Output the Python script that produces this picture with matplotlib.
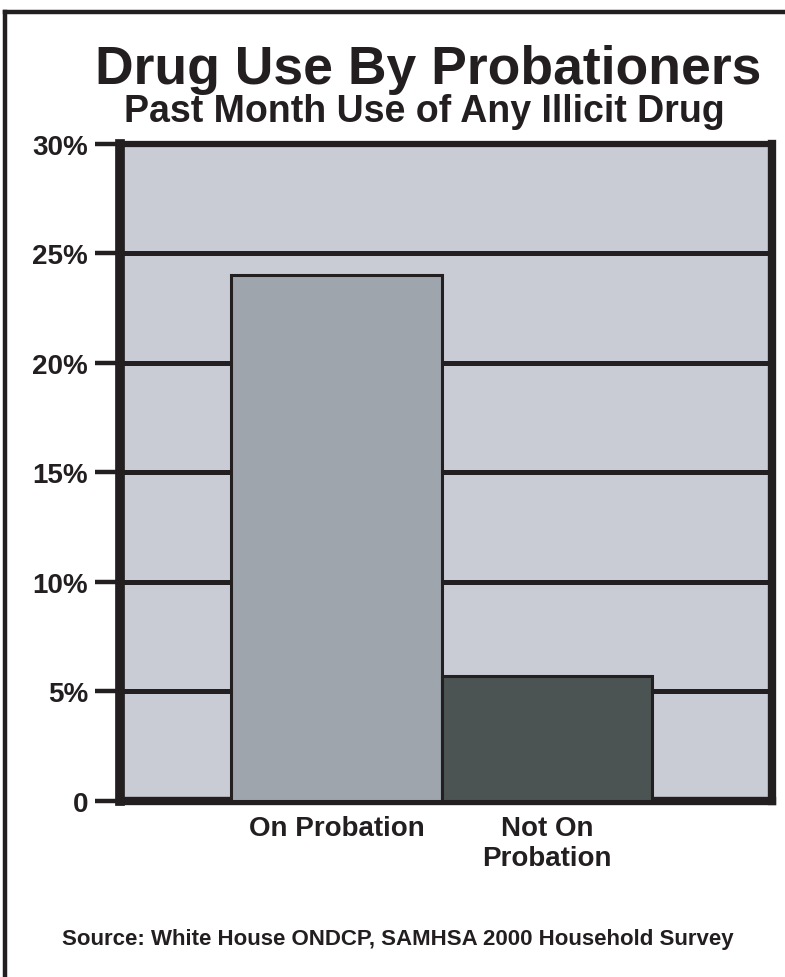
import matplotlib.pyplot as plt
from matplotlib.lines import Line2D

plt.rcParams['font.family'] = ['Liberation Sans', 'DejaVu Sans']

categories = ['On Probation', 'Not On\nProbation']
values = [24.0, 5.7]
bar_colors = ['#9ea5ad', '#4b5453']
yticks = [0, 5, 10, 15, 20, 25, 30]
ytick_labels = ['0', '5%', '10%', '15%', '20%', '25%', '30%']

fig = plt.figure(figsize=(7.85, 9.78), dpi=100)
ax = fig.add_axes([0.153, 0.180, 0.830, 0.672])
ax.set_facecolor('#c9ccd4')

ax.bar([0, 1], values, width=1.0, color=bar_colors,
       edgecolor='#231f20', linewidth=2.2, zorder=3)

ax.set_xlim(-1.03, 2.07)
ax.set_ylim(0, 30)
ax.set_yticks(yticks)
ax.set_yticklabels(ytick_labels, fontsize=20, fontweight='bold', color='#231f20')
ax.set_xticks([])
ax.grid(axis='y', color='#231f20', linewidth=3.6, zorder=1)
ax.set_axisbelow(True)
ax.tick_params(axis='y', length=18, width=3.2, color='#231f20', pad=5)

for side, lw in [('left', 7), ('right', 6), ('top', 4.5), ('bottom', 6)]:
    ax.spines[side].set_linewidth(lw)
    ax.spines[side].set_color('#231f20')

# category labels under the bars
for x, lab in zip([0, 1], categories):
    ax.text(x, -0.65, lab, ha='center', va='top', fontsize=20,
            fontweight='bold', color='#231f20', linespacing=1.2,
            transform=ax.transData)

fig.text(0.545, 0.928, 'Drug Use By Probationers', ha='center', va='center',
         fontsize=38.5, fontweight='bold', color='#231f20')
fig.text(0.540, 0.885, 'Past Month Use of Any Illicit Drug', ha='center', va='center',
         fontsize=27, fontweight='bold', color='#231f20')
fig.text(0.507, 0.039, 'Source: White House ONDCP, SAMHSA 2000 Household Survey',
         ha='center', va='center', fontsize=16, fontweight='bold', color='#231f20')

# outer frame (top and left edges only visible)
fig.add_artist(Line2D([0.007, 1.0], [0.987, 0.987], color='#231f20',
                      linewidth=3.2, transform=fig.transFigure))
fig.add_artist(Line2D([0.007, 0.007], [0.0, 0.987], color='#231f20',
                      linewidth=3.2, transform=fig.transFigure))

fig.savefig('out.png', dpi=100)
